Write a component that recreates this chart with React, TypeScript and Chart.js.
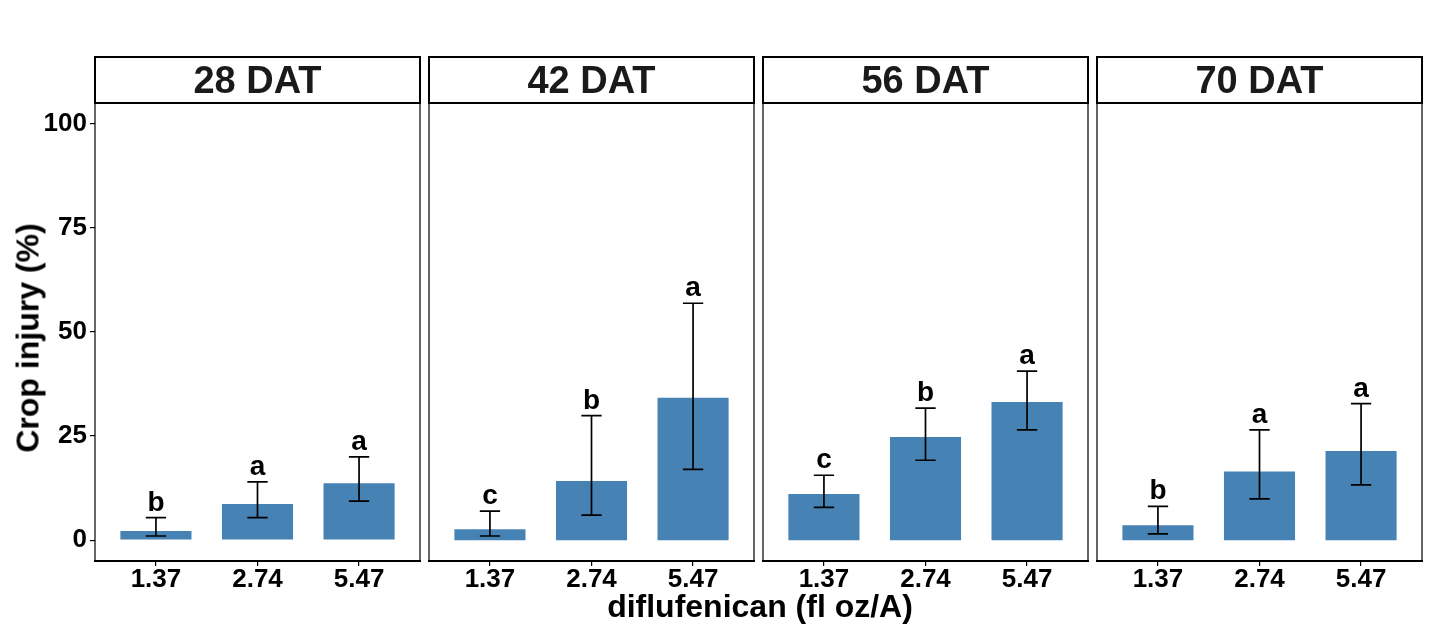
import React, { useRef, useEffect } from 'react';
import { Chart, registerables } from 'chart.js';

Chart.register(...registerables);

const doses = ['1.37', '2.74', '5.47'];
const facets = ['28 DAT', '42 DAT', '56 DAT', '70 DAT'];
const yTicks = [0, 25, 50, 75, 100];

const injury28 = [2.2, 8.7, 13.7];
const lower28 = [1.0, 5.4, 9.4];
const upper28 = [5.4, 14.0, 20.0];
const letters28 = ['b', 'a', 'a'];

const injury42 = [2.6, 14.2, 34.2];
const lower42 = [1.0, 6.0, 17.0];
const upper42 = [7.0, 29.9, 56.9];
const letters42 = ['c', 'b', 'a'];

const injury56 = [11.1, 24.8, 33.2];
const lower56 = [7.9, 19.2, 26.5];
const upper56 = [15.6, 31.7, 40.6];
const letters56 = ['c', 'b', 'a'];

const injury70 = [3.6, 16.5, 21.4];
const lower70 = [1.5, 9.9, 13.3];
const upper70 = [8.1, 26.5, 32.8];
const letters70 = ['b', 'a', 'a'];

const panels = [
  { title: facets[0], values: injury28, lower: lower28, upper: upper28, letters: letters28 },
  { title: facets[1], values: injury42, lower: lower42, upper: upper42, letters: letters42 },
  { title: facets[2], values: injury56, lower: lower56, upper: upper56, letters: letters56 },
  { title: facets[3], values: injury70, lower: lower70, upper: upper70, letters: letters70 },
];

const FONT = '"Liberation Sans", Arial, sans-serif';
const panelLefts = [95, 429, 763, 1097];
const PANEL_W = 325;
const PAD = 2;

const facetPlugin = {
  id: 'facet',
  afterDatasetsDraw(chart: any, _args: any, opts: any) {
    const { ctx, chartArea: a, scales } = chart;
    const x = scales.x;
    const y = scales.y;
    const p = opts.panel;
    const unit = x.getPixelForValue(2) - x.getPixelForValue(1);
    const half = unit * 0.1;

    ctx.save();
    ctx.strokeStyle = '#000';
    ctx.fillStyle = '#000';
    ctx.lineWidth = 1.7;
    ctx.font = `bold 28px ${FONT}`;
    ctx.textAlign = 'center';
    ctx.textBaseline = 'alphabetic';
    p.values.forEach((_v: number, i: number) => {
      const cx = x.getPixelForValue(i + 1);
      const top = y.getPixelForValue(p.upper[i]);
      const bot = y.getPixelForValue(p.lower[i]);
      ctx.beginPath();
      ctx.moveTo(cx, top);
      ctx.lineTo(cx, bot);
      ctx.moveTo(cx - half, top);
      ctx.lineTo(cx + half, top);
      ctx.moveTo(cx - half, bot);
      ctx.lineTo(cx + half, bot);
      ctx.stroke();
      ctx.fillText(p.letters[i], cx, top - 7);
    });

    // panel border, heavier along the bottom like the axis line
    ctx.lineWidth = 1.2;
    ctx.beginPath();
    ctx.moveTo(a.left, a.top);
    ctx.lineTo(a.left, a.bottom);
    ctx.moveTo(a.right, a.top);
    ctx.lineTo(a.right, a.bottom);
    ctx.stroke();
    ctx.lineWidth = 2;
    ctx.beginPath();
    ctx.moveTo(a.left - 1, a.bottom);
    ctx.lineTo(a.right + 1, a.bottom);
    ctx.stroke();

    // strip
    const stripTop = 57;
    ctx.lineWidth = 2;
    ctx.strokeRect(a.left, stripTop, a.right - a.left, a.top - stripTop);
    ctx.fillStyle = '#1a1a1a';
    ctx.font = `bold 38px ${FONT}`;
    ctx.fillText(p.title, (a.left + a.right) / 2, 93);
    ctx.restore();
  },
};

function Panel({ index }: { index: number }) {
  const canvasRef = useRef<HTMLCanvasElement>(null);
  const chartRef = useRef<any>(null);
  const first = index === 0;
  const left = first ? 0 : panelLefts[index] - PAD;
  const width = first ? panelLefts[0] + PANEL_W + PAD : PANEL_W + 2 * PAD;

  useEffect(() => {
    const p = panels[index];
    if (chartRef.current) chartRef.current.destroy();
    chartRef.current = new Chart(canvasRef.current as HTMLCanvasElement, {
      type: 'bar',
      data: {
        datasets: [
          {
            data: p.values.map((v, i) => ({ x: i + 1, y: v })),
            backgroundColor: '#4682B4',
            borderWidth: 0,
            barPercentage: 0.7,
            categoryPercentage: 1,
          },
        ],
      },
      options: {
        animation: false,
        responsive: false,
        devicePixelRatio: 1,
        layout: { padding: { top: 103, bottom: 0, left: first ? 0 : PAD, right: PAD } },
        plugins: {
          legend: { display: false },
          tooltip: { enabled: false },
          facet: { panel: p },
        } as any,
        scales: {
          x: {
            type: 'linear',
            min: 0.4,
            max: 3.6,
            offset: false,
            afterBuildTicks: (s: any) => {
              s.ticks = doses.map((_d, i) => ({ value: i + 1 }));
            },
            afterFit: (s: any) => {
              s.height = 74;
            },
            ticks: {
              callback: (v: any) => doses[Number(v) - 1],
              color: '#000',
              padding: -2,
              maxRotation: 0,
              autoSkip: false,
              font: { family: FONT, size: 26, weight: 'bold' },
            },
            grid: { offset: false, drawOnChartArea: false, drawTicks: true, tickLength: 5, color: '#000', lineWidth: 1.2 },
            border: { display: false },
          },
          y: {
            display: first,
            min: -5,
            max: 105,
            afterBuildTicks: (s: any) => {
              s.ticks = yTicks.map((v) => ({ value: v }));
            },
            afterFit: (s: any) => {
              s.width = first ? panelLefts[0] : 0;
            },
            ticks: {
              color: '#000',
              padding: 3,
              font: { family: FONT, size: 26, weight: 'bold' },
            },
            grid: { drawOnChartArea: false, drawTicks: true, tickLength: 5, color: '#000', lineWidth: 1.2 },
            border: { display: false },
          },
        },
      } as any,
      plugins: [facetPlugin],
    });
    return () => {
      if (chartRef.current) {
        chartRef.current.destroy();
        chartRef.current = null;
      }
    };
  }, [index]);

  return (
    <canvas
      ref={canvasRef}
      width={width}
      height={635}
      style={{ position: 'absolute', left, top: 0, width, height: 635 }}
    />
  );
}

export default function App() {
  return (
    <div style={{ position: 'absolute', left: 0, top: 0, width: 1430, height: 635, background: '#fff', overflow: 'hidden' }}>
      {panels.map((_p, i) => (
        <Panel key={i} index={i} />
      ))}
      <div
        style={{
          position: 'absolute',
          left: 28,
          top: 338,
          transform: 'translate(-50%, -50%) rotate(-90deg)',
          whiteSpace: 'nowrap',
          font: `bold 32px ${FONT}`,
          color: '#000',
        }}
      >
        Crop injury (%)
      </div>
      <div
        style={{
          position: 'absolute',
          left: 760,
          top: 590,
          transform: 'translateX(-50%)',
          whiteSpace: 'nowrap',
          font: `bold 32px ${FONT}`,
          lineHeight: '32px',
          color: '#000',
        }}
      >
        diflufenican (fl oz/A)
      </div>
    </div>
  );
}
